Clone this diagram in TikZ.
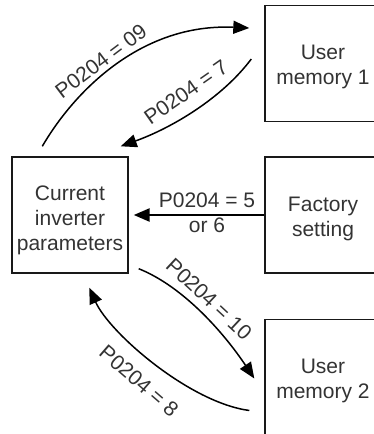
\documentclass[tikz,border=0pt]{standalone}
\usepackage{fontspec}
\setmainfont{Liberation Sans}
\usetikzlibrary{arrows.meta,calc}
\begin{document}
\begin{tikzpicture}[x=1pt,y=-1pt,
  txt/.style={font=\fontsize{21}{25}\selectfont, text=black!80, align=center, inner sep=0pt},
  box/.style={draw=black!90, line width=1.4pt, minimum width=116pt, minimum height=116pt, inner sep=0pt},
  conn/.style={draw=black, line width=1.5pt, -{Triangle[length=16pt,width=13pt]}},
  lab/.style={txt, inner sep=1pt}]
\useasboundingbox (0,0) rectangle (374,434);
\node[box] (cur) at (70,215) {};
\node[txt] (curt) at ($(cur.center)+(0,5.5)$) {Current\\inverter\\parameters};
\node[box] (um1) at (323,63.5) {};
\node[txt] (um1t) at ($(um1.center)+(0,3.7)$) {User\\memory 1};
\node[box] (fac) at (323,215) {};
\node[txt] (fact) at ($(fac.center)+(0,4)$) {Factory\\setting};
\node[box] (um2) at (323,377.5) {};
\node[txt] (um2t) at ($(um2.center)+(0,3.7)$) {User\\memory 2};
% anchors for curved connectors
\coordinate (s1) at ($(cur.north west)+(31,-10)$);
\coordinate (e1) at ($(um1.west)+(-15,-35.5)$);
\coordinate (s2) at ($(um1.west)+(-13,-4.5)$);
\coordinate (e2) at ($(cur.north east)+(-8,-10)$);
\coordinate (s4) at ($(cur.south east)+(10,-5)$);
\coordinate (e4) at ($(um2.west)+(-10,1)$);
\coordinate (s5) at ($(um2.west)+(-15,33)$);
\coordinate (e5) at ($(cur.south west)+(78,14)$);
\draw[conn] (s1) .. controls +(32,-55) and +(-108,-5) .. (e1);
\draw[conn] (s2) .. controls +(-30,40) and +(50,-18) .. (e2);
\draw[conn, line width=2.5pt, shorten >=5pt] (fac.west) -- (cur.east);
\draw[conn] (s4) .. controls +(45,18) and +(-30,-45) .. (e4);
\draw[conn] (s5) .. controls +(-60,-8) and +(20,45) .. (e5);
\node[lab, rotate=37] (l1) at (101,61) {P0204 = 09};
\node[lab, rotate=35] (l2) at (186,92) {P0204 = 7};
\node[lab] (l3a) at (207,200.5) {P0204 = 5};
\node[lab] (l3b) at (207,225.5) {or 6};
\node[lab, rotate=-43] (l4) at (209,299) {P0204 = 10};
\node[lab, rotate=-41] (l5) at (139,381) {P0204 = 8};
\end{tikzpicture}
\end{document}
